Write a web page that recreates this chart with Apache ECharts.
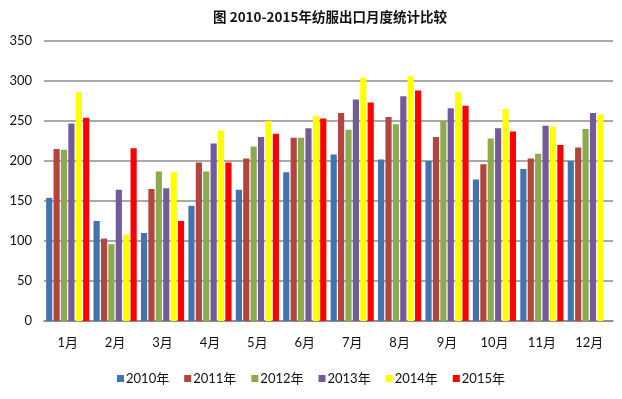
<!DOCTYPE html>
<html>
<head>
<meta charset="utf-8">
<script src="https://cdn.jsdelivr.net/npm/echarts@6/dist/echarts.min.js"></script>
<style>
  html, body { margin: 0; padding: 0; background: #fff; }
  #main { width: 622px; height: 399px; }
</style>
</head>
<body>
<div id="main"></div>
<script>
// 月份
var months = ['1月', '2月', '3月', '4月', '5月', '6月', '7月', '8月', '9月', '10月', '11月', '12月'];
var years = ['2010年', '2011年', '2012年', '2013年', '2014年', '2015年'];

// 各年每月数据
var y2010 = [154, 125, 110, 144, 164, 186, 208, 202, 200, 177, 190, 200];
var y2011 = [215, 103, 165, 198, 203, 229, 260, 255, 230, 196, 203, 217];
var y2012 = [214, 96, 187, 187, 218, 229, 239, 246, 250, 228, 209, 240];
var y2013 = [247, 164, 166, 222, 230, 241, 277, 281, 266, 241, 244, 260];
var y2014 = [286, 108, 186, 238, 250, 256, 304, 306, 286, 265, 243, 258];
var y2015 = [254, 216, 125, 198, 234, 253, 273, 288, 269, 237, 220, null];

var colors = ['#4274B0', '#B3453F', '#8DAA4F', '#735A9B', '#FFFF00', '#FF0000'];

var myChart = echarts.init(document.getElementById('main'));

var font = "Lato, 'Noto Sans CJK SC', sans-serif";

function bar(name, data, i) {
    return {
        name: name,
        type: 'bar',
        data: data,
        barGap: '20%',
        barCategoryGap: '9%',
        itemStyle: { color: colors[i] }
    };
}

var option = {
    animation: false,
    title: {
        text: '图 2010-2015年纺服出口月度统计比较',
        left: 325,
        textAlign: 'center',
        top: 5,
        textStyle: {
            fontSize: 13.5,
            fontWeight: 'bold',
            color: '#111',
            fontFamily: "'Noto Sans CJK SC', sans-serif"
        }
    },
    legend: {
        data: years,
        bottom: 9,
        left: 'center',
        itemWidth: 7,
        itemHeight: 7,
        itemGap: 15,
        icon: 'rect',
        textStyle: { fontSize: 13, color: '#111', fontFamily: font, padding: [0, 0, 0, -3] }
    },
    grid: {
        left: 44,
        right: 9,
        top: 41,
        bottom: 78
    },
    xAxis: [{
        type: 'category',
        data: months,
        axisLine: { lineStyle: { color: '#888', width: 1.5 } },
        axisTick: { show: false },
        axisLabel: { fontSize: 13, color: '#111', margin: 15, fontFamily: font }
    }],
    yAxis: [{
        type: 'value',
        min: 0,
        max: 350,
        interval: 50,
        axisLine: { show: false },
        axisTick: { show: false },
        axisLabel: { fontSize: 13, color: '#111', margin: 12, fontFamily: font },
        splitLine: { lineStyle: { color: '#8c8c8c', width: 1.5 } }
    }],
    series: [
        bar(years[0], y2010, 0),
        bar(years[1], y2011, 1),
        bar(years[2], y2012, 2),
        bar(years[3], y2013, 3),
        bar(years[4], y2014, 4),
        bar(years[5], y2015, 5)
    ]
};

myChart.setOption(option);
window.onresize = myChart.resize;
</script>
</body>
</html>
